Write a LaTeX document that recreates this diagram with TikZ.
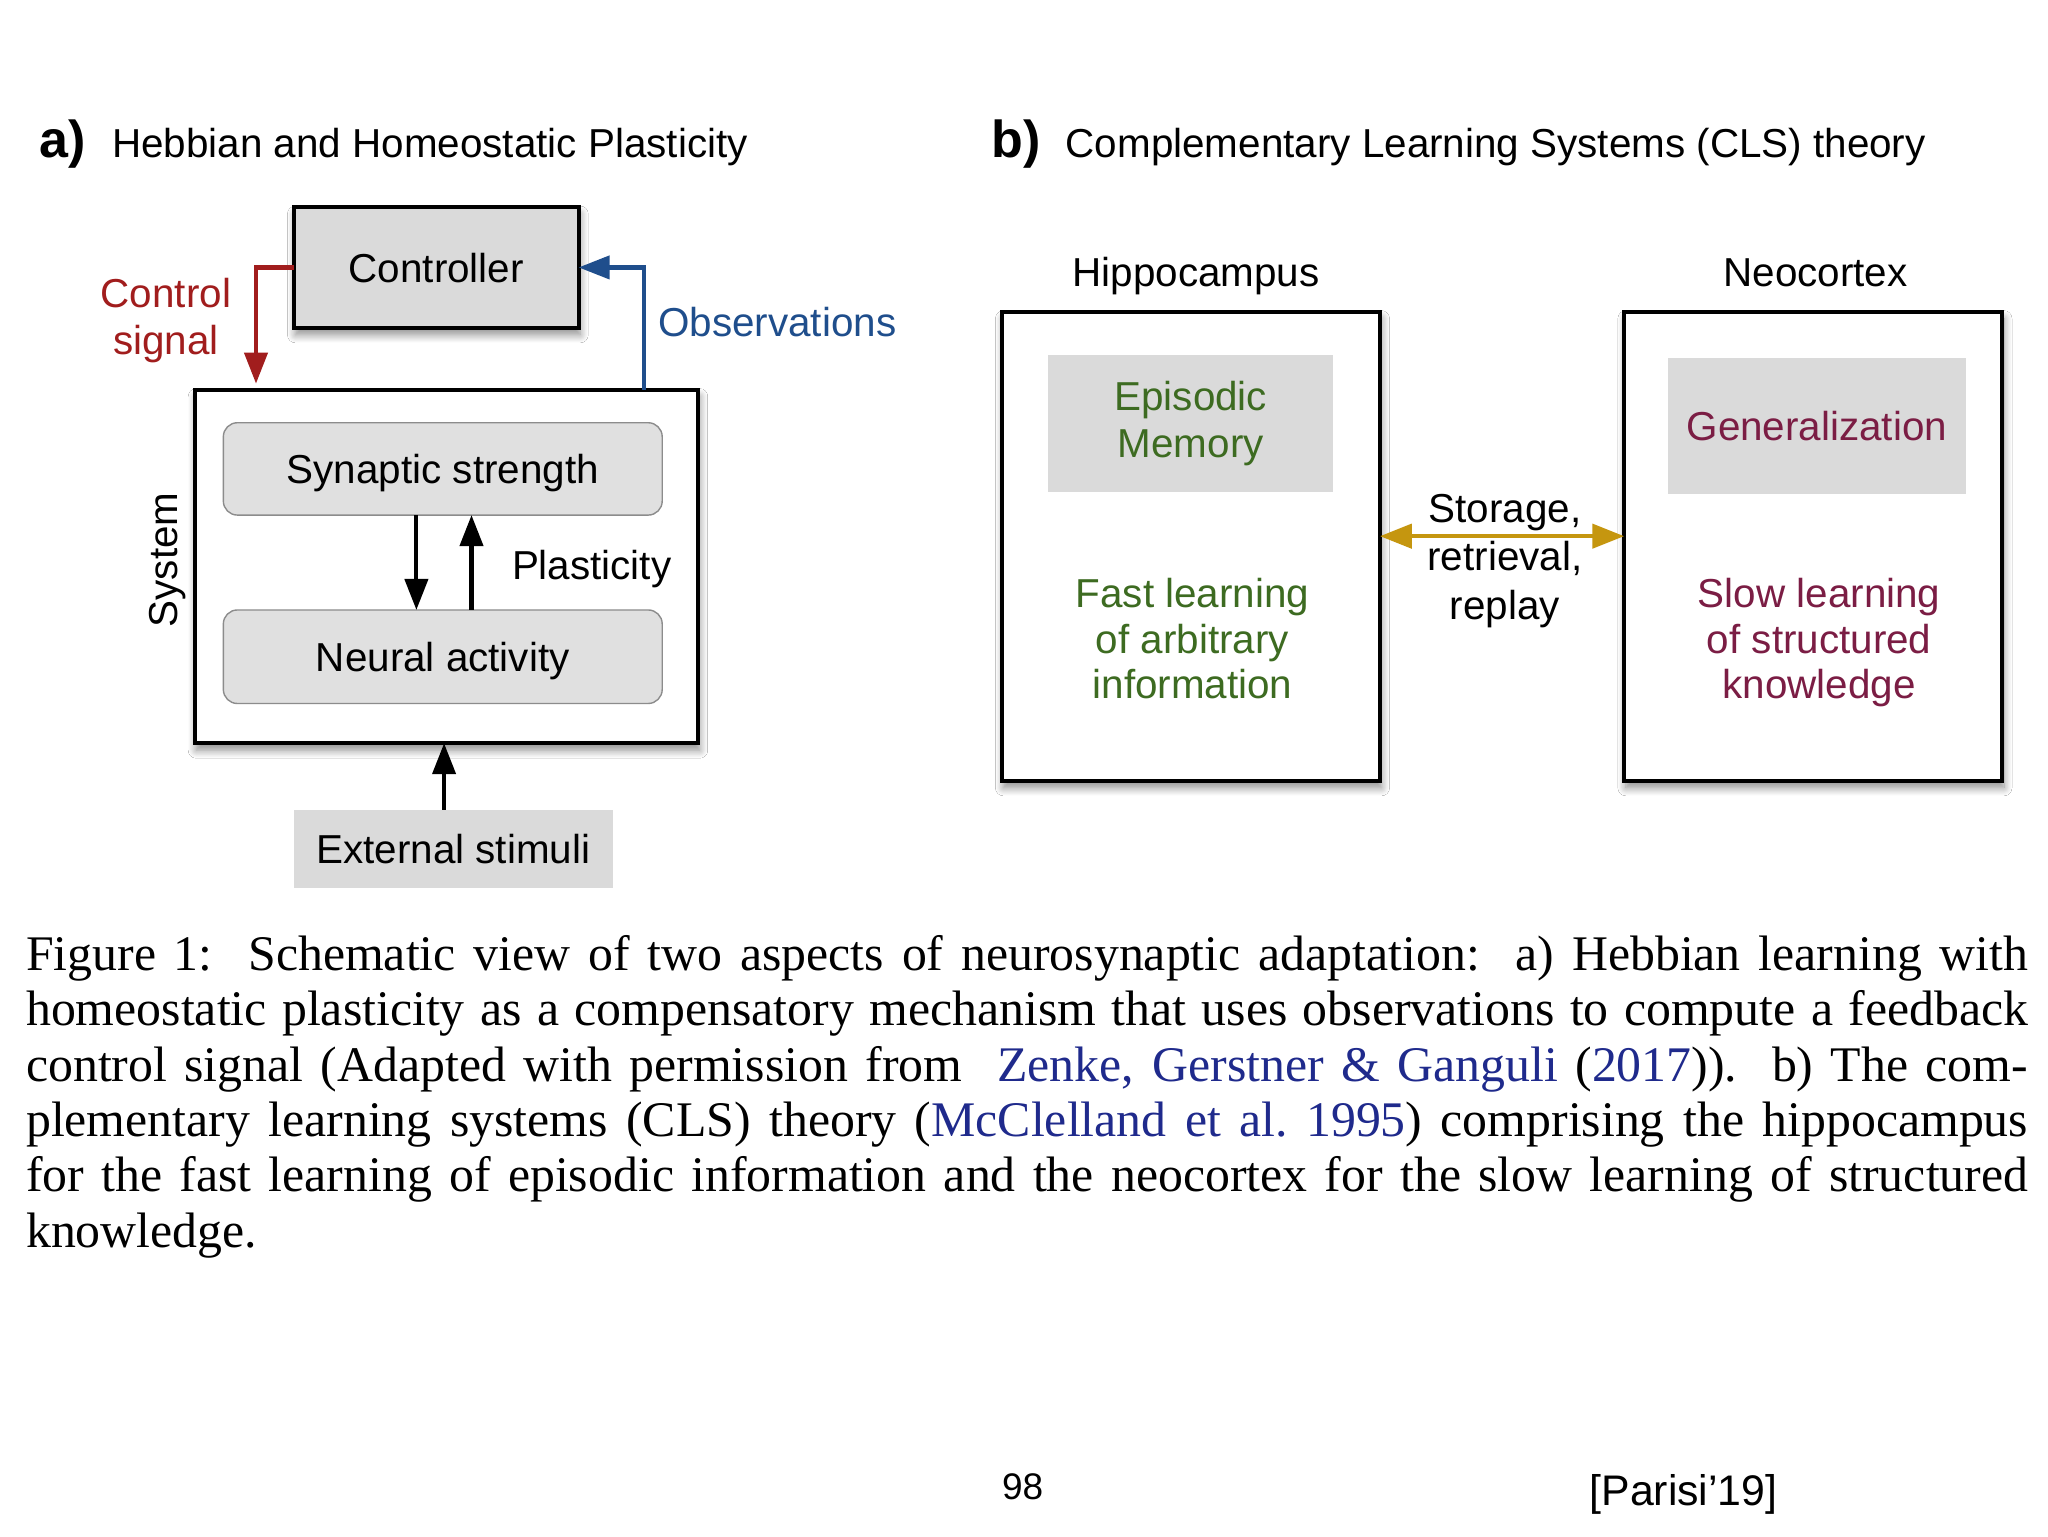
\documentclass[tikz,border=0pt]{standalone}
\usepackage{fontspec}
\setmainfont{Liberation Sans}
\newfontfamily\capfont{Liberation Serif}
\usetikzlibrary{arrows.meta,shadows.blur}
\definecolor{cred}{HTML}{A11D1D}
\definecolor{cblue}{HTML}{1F4E8C}
\definecolor{cgreen}{HTML}{3D6B21}
\definecolor{cpurple}{HTML}{7B1D44}
\definecolor{cgold}{HTML}{C5960F}
\definecolor{cgray}{HTML}{DADADA}
\definecolor{cgrayb}{HTML}{E0E0E0}
\definecolor{clink}{HTML}{1F2A8C}
\newlength\U \setlength\U{0.65306pt}
\begin{document}
\begin{tikzpicture}[x=0.65306pt,y=-0.65306pt,
  every node/.style={inner sep=0pt,outer sep=0pt},
  lbl/.style={font=\fontsize{20.2}{24}\selectfont},
  ttl/.style={font=\fontsize{20.2}{24}\selectfont},
  tag/.style={font=\bfseries\fontsize{26}{30}\selectfont},
  shad/.style={blur shadow={shadow blur steps=10,shadow xshift=0.8pt,shadow yshift=-3.5pt,shadow blur radius=4pt,shadow opacity=45}},
  bigbox/.style={draw=black,line width=2pt,fill=white,shad},
  ctrlbox/.style={draw=black,line width=2pt,fill=cgray,shad,lbl,text height=15pt,text depth=0pt},
  rbox/.style={draw=black!45,line width=0.7pt,fill=cgrayb,rounded corners=7pt,lbl,text height=15pt,text depth=0pt},
  gbox/.style={fill=cgray,lbl,text height=15pt,text depth=0pt},
  arr/.style={line width=2.1pt,-{Triangle[width=11.5pt,length=15.5pt]}},
  darr/.style={line width=2.3pt,{Triangle[width=12pt,length=16pt]}-{Triangle[width=12pt,length=16pt]}}
]
\useasboundingbox[fill=white] (0,0) rectangle (1568,1176);

% ---------- panel a ----------
\node[tag,anchor=base west] (taga) at (30,120.5) {a)};
\node[ttl,anchor=base west] (ttla) at (86,120.5) {Hebbian and Homeostatic Plasticity};

\node[ctrlbox,minimum width=218\U,minimum height=92.5\U] (ctrl) at (334,204.75) {Controller};
\node[bigbox,minimum width=385.5\U,minimum height=270.7\U] (sys) at (341.75,433.65) {};
\node[rbox,minimum width=336\U,minimum height=70.7\U] (syn) at (339,359) {Synaptic strength};
\node[rbox,minimum width=336\U,minimum height=71.6\U] (neu) at (339,502.8) {Neural activity};
\node[gbox,minimum width=244\U,minimum height=60\U] (ext) at (347,650) {External stimuli};

\node[lbl,anchor=base,rotate=90] (system) at (136,428.6) {System};
\node[lbl,anchor=base west] (plast) at (392,443.7) {Plasticity};
\node[lbl,anchor=north,align=center,text=cred,font=\fontsize{20.2}{23.5}\selectfont] (csig) at (127,213) {Control\\signal};
\node[lbl,anchor=base west,text=cblue] (obs) at (504,257.3) {Observations};

\draw[arr,cred,shorten >=3pt] (ctrl.west) -| (196,0 |- sys.north);
\draw[arr,cblue] (493,0 |- sys.north) |- (ctrl.east);
\draw[arr] (318.8,0 |- syn.south) -- (318.8,0 |- neu.north);
\draw[arr] (361,0 |- neu.north) -- (361,0 |- syn.south);
\draw[arr] (340,0 |- ext.north) -- (340,0 |- sys.south);

% ---------- panel b ----------
\node[tag,anchor=base west] (tagb) at (759,120.5) {b)};
\node[ttl,anchor=base west] (ttlb) at (816,120.5) {Complementary Learning Systems (CLS) theory};

\node[lbl,anchor=base] (hiplbl) at (915.7,219.4) {Hippocampus};
\node[lbl,anchor=base] (neolbl) at (1390,219.4) {Neocortex};

\node[bigbox,minimum width=289.5\U,minimum height=359.2\U] (hip) at (911.75,418.2) {};
\node[bigbox,minimum width=289.5\U,minimum height=359.2\U] (neo) at (1388.3,418.2) {};

\node[fill=cgray,minimum width=218.2\U,minimum height=105\U,align=center,text=cgreen,font=\fontsize{20.2}{23.5}\selectfont] (epi) at (911.7,324) {Episodic\\Memory};
\node[gbox,minimum width=228\U,minimum height=104\U,text=cpurple] (gen) at (1391,326) {Generalization};

\node[anchor=north,align=center,text=cgreen,font=\fontsize{20.2}{22.7}\selectfont] (fast) at (913,443) {Fast learning\\of arbitrary\\information};
\node[anchor=north,align=center,text=cpurple,font=\fontsize{20.2}{22.7}\selectfont] (slow) at (1392.8,443) {Slow learning\\of structured\\knowledge};

\draw[darr,cgold] (hip.east |- 0,410.5) -- (neo.west |- 0,410.5);
\node[anchor=north,align=center,font=\fontsize{20.2}{24.2}\selectfont] (store) at (1152.2,378.5) {Storage,\\retrieval,\\replay};

% ---------- caption ----------
\node[anchor=north west,text width=1001pt,align=justify,font=\capfont\fontsize{24.9}{27.7}\selectfont] (cap) at (20,716) {\tolerance=10000\hyphenpenalty=10000
Figure 1:\ \ Schematic view of two aspects of neurosynaptic adaptation:\ \ a) Hebbian learning with\linebreak
homeostatic plasticity as a compensatory mechanism that uses observations to compute a feedback\linebreak
control signal (Adapted with permission from\ \ \textcolor{clink}{Zenke, Gerstner \& Ganguli} (\textcolor{clink}{2017})).\ \ b) The com-\linebreak
plementary learning systems (CLS) theory (\textcolor{clink}{McClelland et al.\ 1995}) comprising the hippocampus\linebreak
for the fast learning of episodic information and the neocortex for the slow learning of structured\linebreak
knowledge.};

\node[anchor=base,font=\fontsize{18.5}{20}\selectfont] (page) at (783,1148) {98};
\node[anchor=base west,font=\fontsize{21.4}{24}\selectfont] (cite) at (1217,1153) {[Parisi’19]};
\end{tikzpicture}
\end{document}
